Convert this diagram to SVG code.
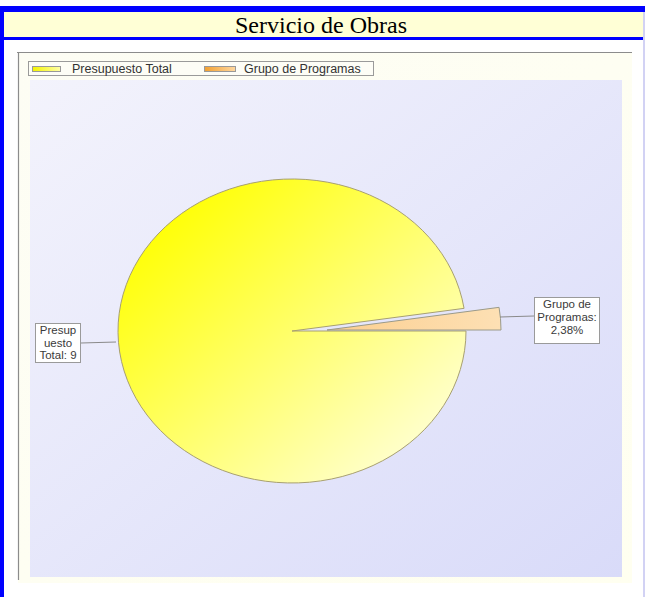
<svg xmlns="http://www.w3.org/2000/svg" width="645" height="597" viewBox="0 0 645 597">
<style>
.lbl{font-family:"Liberation Sans",Arial,sans-serif;font-size:11.5px;fill:#3a3a3a;text-anchor:middle}
.leg{font-family:"Liberation Sans",Arial,sans-serif;font-size:12.5px;fill:#333}
.box{fill:#ffffff;stroke:#9a9a9a;stroke-width:1}
.lead{stroke:#8a8a8a;stroke-width:1;fill:none}
</style>
<defs>
<linearGradient id="chartBg" x1="0" y1="0" x2="1" y2="1">
<stop offset="0" stop-color="#fdfdf4"/>
<stop offset="1" stop-color="#fffff0"/>
</linearGradient>
<linearGradient id="plotBg" x1="0" y1="0" x2="1" y2="1">
<stop offset="0" stop-color="#f3f3fc"/>
<stop offset="1" stop-color="#d9dbf9"/>
</linearGradient>
<linearGradient id="yel" gradientUnits="userSpaceOnUse" x1="170" y1="200" x2="420" y2="470">
<stop offset="0" stop-color="#ffff00"/>
<stop offset="1" stop-color="#ffffd8"/>
</linearGradient>
<linearGradient id="org" x1="0" y1="0" x2="1" y2="0">
<stop offset="0" stop-color="#fccf90"/>
<stop offset="1" stop-color="#fde0b4"/>
</linearGradient>
<linearGradient id="legY" x1="0" y1="0" x2="1" y2="0">
<stop offset="0" stop-color="#f4f400"/>
<stop offset="1" stop-color="#ffffa8"/>
</linearGradient>
<linearGradient id="legO" x1="0" y1="0" x2="1" y2="0">
<stop offset="0" stop-color="#f2a030"/>
<stop offset="1" stop-color="#ffd8a0"/>
</linearGradient>
</defs>

<rect x="0" y="0" width="645" height="597" fill="#ffffff"/>

<!-- frame -->
<g id="frame">
<rect x="0" y="6" width="645" height="6" fill="#0000ff"/>
<rect x="4" y="12" width="639" height="25" fill="#ffffd6"/>
<rect x="0" y="37" width="645" height="3" fill="#0000ff"/>
<rect x="0" y="6" width="4" height="591" fill="#0000ff"/>
<rect x="643" y="12" width="2" height="585" fill="#d2d2f4"/>
<text x="321" y="33" font-family="'Liberation Serif','Times New Roman',serif" font-size="24" fill="#000" text-anchor="middle">Servicio de Obras</text>
</g>

<!-- chart background -->
<g id="chart">
<rect x="18" y="52" width="614" height="531" fill="url(#chartBg)"/>
<line x1="17" y1="52.5" x2="632" y2="52.5" stroke="#8c8c8c" stroke-width="1.2"/>
<line x1="18.5" y1="52" x2="18.5" y2="580" stroke="#8c8c8c" stroke-width="1.2"/>
<rect x="30" y="80" width="592" height="497" fill="url(#plotBg)"/>
</g>

<!-- legend -->
<g id="legend">
<rect x="28.5" y="61.5" width="345" height="14" fill="#fdfdf6" stroke="#9a9a9a"/>
<rect x="32.5" y="66.5" width="28" height="5" fill="url(#legY)" stroke="#999"/>
<text class="leg" x="72" y="72.5">Presupuesto Total</text>
<rect x="204.5" y="66.5" width="31" height="5" fill="url(#legO)" stroke="#999"/>
<text class="leg" x="244" y="72.5">Grupo de Programas</text>
</g>

<!-- slices -->
<g id="slice-presupuesto">
<path d="M292,331 L464.06,308.35 A174,152 0 1,0 466,331 Z" fill="url(#yel)" stroke="#a8a070" stroke-width="1"/>
</g>
<g id="slice-grupo">
<path d="M327,330 L501,330 A174,152 0 0,0 499.06,307.35 Z" fill="url(#org)" stroke="#9a9a8a" stroke-width="1"/>
</g>

<!-- connectors -->
<g id="connectors">
<line class="lead" x1="81" y1="343" x2="116" y2="342"/>
<line class="lead" x1="500" y1="317" x2="534" y2="316"/>
</g>

<!-- labels -->
<g id="label-presupuesto">
<rect class="box" x="35.5" y="323.5" width="45" height="39"/>
<text class="lbl" x="58" y="334">Presup</text>
<text class="lbl" x="58" y="346.5">uesto</text>
<text class="lbl" x="58" y="358.5">Total: 9</text>
</g>
<g id="label-grupo">
<rect class="box" x="534.5" y="297.5" width="65" height="46"/>
<text class="lbl" x="567" y="307.5">Grupo de</text>
<text class="lbl" x="567" y="320.5">Programas:</text>
<text class="lbl" x="567" y="333.5">2,38%</text>
</g>
</svg>
